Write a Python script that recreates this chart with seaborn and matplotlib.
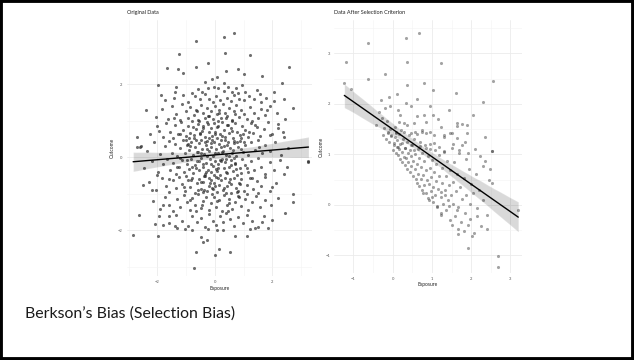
import numpy as np
import pandas as pd
import matplotlib
matplotlib.use("Agg")
import matplotlib.pyplot as plt
import seaborn as sns
from matplotlib.patches import Rectangle
from matplotlib.ticker import MultipleLocator

# ---- left panel: original data ----
orig_x = [
    # sparse outer points
    -0.66, 0.31, 0.66, -1.24, 0.35, 1.22, -0.23, -1.65, -1.28, -0.67, -1.10, 0.37, 0.79, 1.02, 1.62, 2.59,
    -1.97, -0.35, -0.09, 0.09, 0.31, 0.95, 2.32, -1.88, -1.39, -1.36, -0.81, -0.46, -0.23, -0.02, 0.46, 0.60,
    0.81, 1.04, 1.45, 2.06,
    -0.71, -2.84, -1.97, -2.63, 0.00, 0.14, 0.52, -0.50, -0.27, -0.64, -0.41, 1.10, 0.70, 1.86, 2.43, 2.70,
    2.70, 3.25, 2.41, 1.97, -2.09, -1.80, -1.33, -1.04, -0.81, 0.06, 0.29, 1.22, 1.39, 1.62, -2.49, -2.69,
    -2.55, -2.69, 2.35, -2.61, 3.25,
    # y 1.5 .. 2
    -1.75, -1.42, -1.10, -0.95, -0.70, -0.52, -0.35, -0.20, -0.08, 0.05, 0.18, 0.30, 0.42, 0.55, 0.68, 0.85,
    1.02, 1.20, 1.35, 1.55, 1.78, 2.05, -0.60, 0.12, 0.75,
    # y 1 .. 1.5
    -2.05, -1.85, -1.62, -1.50, -1.35, -1.22, -1.15, -1.02, -0.92, -0.85, -0.74, -0.66, -0.58, -0.50, -0.42,
    -0.35, -0.28, -0.20, -0.12, -0.05, 0.02, 0.08, 0.15, 0.22, 0.28, 0.35, 0.42, 0.50, 0.58, 0.66, 0.74,
    0.82, 0.92, 1.02, 1.12, 1.22, 1.35, 1.48, 1.60, 1.75, 1.92, 2.15, 2.45, -2.40, 2.70,
    # y 0.5 .. 1
    -2.25, -2.00, -1.80, -1.70, -1.55, -1.45, -1.38, -1.28, -1.18, -1.10, -1.02, -0.95, -0.88, -0.80, -0.72,
    -0.66, -0.60, -0.52, -0.46, -0.40, -0.33, -0.27, -0.21, -0.15, -0.10, -0.04, 0.02, 0.07, 0.12, 0.18,
    0.24, 0.30, 0.36, 0.42, 0.48, 0.55, 0.62, 0.70, 0.78, 0.86, 0.94, 1.04, 1.14, 1.24, 1.34, 1.46, 1.58,
    1.70, 1.85, 2.00, 2.20, 2.40, -0.55, 0.10, 0.60, -0.90, 0.90, -1.95, 1.30, -0.20,
    # y 0 .. 0.5
    -2.35, -2.10, -1.90, -1.75, -1.60, -1.50, -1.40, -1.30, -1.22, -1.12, -1.05, -0.98, -0.90, -0.82, -0.76,
    -0.70, -0.62, -0.56, -0.50, -0.44, -0.38, -0.32, -0.26, -0.20, -0.14, -0.08, -0.02, 0.04, 0.10, 0.15,
    0.21, 0.27, 0.33, 0.39, 0.45, 0.52, 0.58, 0.65, 0.72, 0.80, 0.88, 0.96, 1.06, 1.16, 1.26, 1.38, 1.50,
    1.62, 1.75, 1.90, 2.08, 2.30, 2.55, -0.66, 0.00, 0.35, -0.28, 0.62, -1.00, 1.00, -0.15, 0.48, -0.48,
    0.22, -0.85,
    # y -0.5 .. 0
    -2.45, -2.20, -1.98, -1.80, -1.66, -1.55, -1.44, -1.34, -1.25, -1.15, -1.06, -0.98, -0.90, -0.82, -0.75,
    -0.68, -0.61, -0.54, -0.48, -0.42, -0.36, -0.30, -0.24, -0.18, -0.12, -0.06, 0.00, 0.06, 0.12, 0.18,
    0.24, 0.30, 0.36, 0.42, 0.48, 0.55, 0.62, 0.70, 0.78, 0.86, 0.94, 1.04, 1.14, 1.25, 1.36, 1.48, 1.60,
    1.74, 1.90, 2.06, 2.25, 2.50, -0.30, 0.20, 0.66, -0.80, 0.90, -0.02, 0.40, -0.55, 1.10, -1.20, 0.10,
    -0.40, 0.72,
    # y -1 .. -0.5
    -2.30, -2.05, -1.85, -1.70, -1.58, -1.46, -1.35, -1.25, -1.14, -1.04, -0.95, -0.86, -0.78, -0.70, -0.62,
    -0.55, -0.48, -0.41, -0.34, -0.28, -0.21, -0.15, -0.09, -0.03, 0.03, 0.09, 0.15, 0.21, 0.28, 0.35,
    0.42, 0.49, 0.57, 0.65, 0.73, 0.82, 0.91, 1.00, 1.10, 1.22, 1.34, 1.46, 1.60, 1.75, 1.92, 2.12, -0.60,
    0.00, 0.40, -0.20, 0.78, -1.00, 0.55, -0.40, 1.50,
    # y -1.5 .. -1
    -2.15, -1.90, -1.72, -1.58, -1.45, -1.32, -1.20, -1.08, -0.98, -0.88, -0.78, -0.68, -0.58, -0.49, -0.40,
    -0.31, -0.22, -0.13, -0.04, 0.05, 0.14, 0.23, 0.32, 0.41, 0.50, 0.60, 0.70, 0.80, 0.92, 1.04, 1.16,
    1.30, 1.44, 1.58, 1.75, 1.95, 2.20, -0.10, 0.45, -0.65,
    # y -2 .. -1.5
    -1.95, -1.60, -1.35, -1.15, -0.95, -0.80, -0.62, -0.48, -0.34, -0.20, -0.08, 0.04, 0.16, 0.28, 0.40,
    0.52, 0.66, 0.80, 0.96, 1.12, 1.30, 1.50, 1.70, 2.00, -0.25,
    # denser centre and the tilted corners
    -0.92, -0.71, -0.57, -0.43, -0.37, -0.29, -0.17, -0.11, 0.03, 0.09, 0.19, 0.26, 0.33, 0.41, 0.53,
    0.61, 0.69, 0.77, 0.87, 0.97, -0.83, -0.64, -0.51, -0.39, -0.23, -0.13, -0.01, 0.11, 0.23, 0.37,
    0.47, 0.57, 0.67, 0.79, 0.91, -0.97, -0.77, -0.47, -0.33, -0.07, 0.15, 0.39, -0.25, -0.61, 0.71,
    -0.87, -0.45, 0.07, 0.49, 0.83, -1.21, -1.33, -1.09, 1.17, 1.29, 1.41, 1.11, -1.43, 1.53, -1.61,
    1.80, 2.20, 1.60, 2.40, 1.90, -1.80, -2.20, -1.60, -2.00, -1.40,
]
orig_y = [
    3.19, 3.30, 3.39, 2.82, 2.84, 2.80, 2.58, 2.43, 2.42, 2.48, 2.29, 2.36, 2.41, 2.27, 2.22, 2.46,
    1.97, 2.06, 2.13, 2.20, 2.02, 1.97, 2.02, 1.69, 1.79, 1.91, 1.76, 1.79, 1.88, 1.93, 1.93, 1.79,
    1.76, 1.79, 1.85, 1.79,
    -3.03, -2.14, -2.16, -1.59, -2.68, -2.52, -2.61, -2.18, -2.27, -2.59, -2.32, -2.16, -2.16, -1.95, -1.52, -1.02,
    -1.22, -0.10, -0.47, -0.83, -1.84, -1.86, -1.94, -1.98, -2.00, -2.00, -2.00, -1.98, -1.95, -1.77, -0.77, 0.28,
    0.31, 0.54, 0.69, 0.28, -0.13,
    1.55, 1.62, 1.70, 1.52, 1.66, 1.58, 1.74, 1.60, 1.52, 1.68, 1.57, 1.80, 1.63, 1.53, 1.71, 1.60,
    1.55, 1.67, 1.58, 1.72, 1.61, 1.54, 1.86, 1.90, 1.88,
    1.10, 1.32, 1.05, 1.40, 1.18, 1.02, 1.45, 1.25, 1.08, 1.38, 1.15, 1.30, 1.02, 1.44, 1.20,
    1.08, 1.35, 1.12, 1.26, 1.04, 1.40, 1.18, 1.30, 1.06, 1.46, 1.22, 1.12, 1.34, 1.02, 1.25, 1.42,
    1.10, 1.30, 1.18, 1.04, 1.38, 1.20, 1.08, 1.32, 1.15, 1.40, 1.22, 1.05, 1.28, 1.35,
    0.62, 0.85, 0.55, 0.92, 0.70, 0.52, 0.88, 0.64, 0.96, 0.75, 0.58, 0.84, 0.66, 0.98, 0.53,
    0.78, 0.90, 0.62, 0.72, 0.86, 0.55, 0.96, 0.68, 0.80, 0.58, 0.92, 0.70, 0.52, 0.84, 0.63,
    0.95, 0.74, 0.56, 0.88, 0.67, 0.79, 0.53, 0.93, 0.70, 0.60, 0.86, 0.74, 0.55, 0.92, 0.66, 0.82, 0.58,
    0.76, 0.95, 0.64, 0.80, 0.55, 0.99, 0.99, 0.98, 0.51, 0.51, 0.72, 0.98, 0.51,
    0.18, 0.40, 0.08, 0.30, 0.45, 0.12, 0.35, 0.02, 0.24, 0.46, 0.10, 0.32, 0.20, 0.42, 0.05,
    0.28, 0.15, 0.38, 0.48, 0.22, 0.08, 0.34, 0.44, 0.16, 0.28, 0.04, 0.40, 0.22, 0.10, 0.36,
    0.47, 0.18, 0.30, 0.06, 0.42, 0.24, 0.12, 0.38, 0.02, 0.27, 0.45, 0.14, 0.33, 0.07, 0.40, 0.20, 0.46,
    0.10, 0.32, 0.18, 0.40, 0.06, 0.25, 0.46, 0.12, 0.48, 0.02, 0.20, 0.48, 0.40, 0.38, 0.04, 0.10,
    0.28, 0.30,
    -0.30, -0.12, -0.42, -0.20, -0.05, -0.36, -0.15, -0.46, -0.26, -0.08, -0.40, -0.18, -0.32, -0.04, -0.44,
    -0.22, -0.12, -0.36, -0.02, -0.28, -0.46, -0.16, -0.34, -0.06, -0.42, -0.24, -0.10, -0.38, -0.20, -0.48,
    -0.04, -0.30, -0.14, -0.44, -0.26, -0.08, -0.38, -0.18, -0.48, -0.30, -0.06, -0.22, -0.42, -0.12, -0.34, -0.02, -0.26,
    -0.45, -0.14, -0.36, -0.08, -0.28, -0.40, -0.12, -0.02, -0.26, -0.44, -0.48, -0.06, -0.10, -0.30, -0.02, -0.30,
    -0.20, -0.32,
    -0.68, -0.90, -0.58, -0.80, -0.96, -0.62, -0.84, -0.54, -0.74, -0.92, -0.64, -0.82, -0.56, -0.98, -0.72,
    -0.60, -0.88, -0.68, -0.52, -0.94, -0.78, -0.62, -0.86, -0.70, -0.54, -0.96, -0.76, -0.64, -0.90, -0.58,
    -0.80, -0.68, -0.98, -0.56, -0.84, -0.70, -0.60, -0.92, -0.76, -0.58, -0.88, -0.66, -0.80, -0.54, -0.94, -0.72, -0.90,
    -0.80, -0.98, -0.56, -0.96, -0.52, -0.74, -0.96, -0.98,
    -1.20, -1.42, -1.08, -1.30, -1.48, -1.15, -1.36, -1.04, -1.24, -1.46, -1.12, -1.32, -1.02, -1.40, -1.20,
    -1.08, -1.44, -1.26, -1.10, -1.38, -1.18, -1.48, -1.04, -1.30, -1.14, -1.42, -1.22, -1.06, -1.34, -1.16, -1.46,
    -1.24, -1.06, -1.38, -1.18, -1.30, -1.12, -1.02, -1.48, -1.48,
    -1.62, -1.80, -1.58, -1.74, -1.90, -1.60, -1.78, -1.66, -1.92, -1.56, -1.74, -1.86, -1.62, -1.78, -1.54,
    -1.70, -1.88, -1.64, -1.80, -1.58, -1.74, -1.92, -1.60, -1.72, -1.98,
    0.37, 0.61, 0.14, 0.79, -0.53, 0.23, -0.71, 0.47, -0.33, 0.83, -0.07, 0.58, -0.84, 0.33, -0.61,
    0.71, -0.17, 0.41, -0.73, 0.63, -0.63, -0.31, 0.67, -0.89, 0.91, -0.19, 0.63, -0.57, 0.13, -0.41,
    0.89, -0.23, 0.43, -0.93, 0.21, -0.07, 0.83, -0.69, 0.41, -0.87, 1.21, 1.07, 1.13, 1.27, 1.17,
    -1.17, -1.31, -1.19, -1.27, -1.09, 0.63, -0.27, -0.81, 0.69, -0.57, 0.87, -1.01, 1.07, 0.27, -0.61,
    1.30, 0.90, 1.50, 1.60, 0.60, -1.30, -0.90, -1.60, -0.50, -1.90,
]

# ---- right panel: data after selection criterion ----
sel_x = [
    -1.19, -0.63, 0.35, 0.67, 0.37, 1.22, -0.63, -1.23, -0.20, -1.06, 0.37, 0.81, 1.02, 1.62, 2.55, 2.29,
    -0.30, -0.08, 0.12, 0.35, -0.20, -0.07, 0.13, 0.46, 0.61, 0.79, 1.03, 1.43, 2.04, -0.42, -0.35, 0.96,
    0.16, 0.37, 1.64, 1.64, 1.76, 1.89, 1.24, -0.12, 0.08, 0.75, 0.96, 1.47, 2.35,
    3.20, 2.68, 2.68, 1.93, 2.40, 1.66, 1.66, 2.08, 1.82, 2.52, 2.54, 2.31, 2.48, 2.14, 1.97, 1.64,
    1.43, 1.22, 1.13, 0.92, 1.00, 1.22, 1.34,
    -0.12, -0.05, 0.08, 0.29, 0.46, 0.63, 0.75, 0.84, 1.05, 1.30, 1.51, 1.64, 1.89,
    0.03, 0.13, 0.25, 0.31, 0.46, 0.54, 0.71, 0.84, 0.96, 1.09, 1.17, 1.30, 1.51, 1.70, 1.76, 1.93, 2.23, 2.52,
    -0.25, -0.22, -0.18, -0.15, -0.10, -0.06, -0.03, -0.28,
    0.02, 0.04, 0.05, 0.07, 0.09, 0.10, 0.12, 0.14, 0.15, 0.17, 0.19, 0.20, 0.22, 0.24, 0.25, 0.27, 0.28, 0.29,
    0.31, 0.32, 0.34, 0.36, 0.37, 0.39, 0.40, 0.42, 0.44, 0.45, 0.47, 0.48, 0.50, 0.52, 0.53, 0.55, 0.56,
    0.58, 0.59, 0.57,
    0.61, 0.62, 0.64, 0.65, 0.67, 0.68, 0.70, 0.72, 0.73, 0.75, 0.76, 0.78, 0.80, 0.81, 0.83, 0.85, 0.86,
    0.88, 0.89, 0.78,
    0.91, 0.92, 0.94, 0.95, 0.97, 0.98, 1.00, 1.02, 1.03, 1.05, 1.06, 1.08, 1.10, 1.11, 1.13, 1.15, 1.17, 1.19,
    1.22, 1.23, 1.25, 1.27, 1.29, 1.31, 1.33, 1.35, 1.37, 1.39, 1.41, 1.43, 1.45, 1.47, 1.49,
    1.51, 1.53, 1.55, 1.57, 1.59, 1.61, 1.63, 1.66, 1.68, 1.71, 1.74, 1.77,
    1.81, 1.84, 1.86, 1.88, 1.91, 1.94, 1.97, 2.00, 2.03, 2.06,
    2.12, 2.16, 2.20, 2.25, 2.30, 2.35, 2.40, 2.45,
    0.55, 0.85, 1.15, 1.30, 0.20, 0.62, 1.85, 2.10, 1.55,
]
sel_y = [
    2.83, 3.20, 3.30, 3.40, 2.84, 2.81, 2.49, 2.42, 2.59, 2.29, 2.38, 2.42, 2.28, 2.22, 2.46, 2.03,
    2.08, 2.13, 2.20, 2.01, 1.91, 1.96, 1.88, 1.95, 1.76, 1.78, 1.78, 1.87, 1.78, 1.58, 1.83, 1.95,
    1.65, 1.58, 1.63, 1.56, 1.60, 1.58, 1.55, 1.45, 1.42, 1.49, 1.45, 1.43, 1.35,
    -0.10, -1.02, -1.24, -0.86, -0.48, -0.48, -0.58, -0.55, -0.51, 0.43, 1.07, 0.77, 0.71, -0.23, -0.28, -0.10,
    -0.02, -0.20, -0.03, 0.10, 0.15, 0.26, 0.20,
    1.42, 1.39, 1.45, 1.45, 1.42, 1.41, 1.45, 1.43, 1.39, 1.35, 1.42, 1.32, 1.42,
    1.19, 1.15, 1.22, 1.12, 1.19, 1.09, 1.17, 1.12, 1.21, 1.09, 1.15, 1.06, 1.12, 1.08, 1.19, 1.02, 0.96, 1.07,
    1.38, 1.52, 1.30, 1.66, 1.25, 1.50, 1.36, 1.72,
    1.08, 1.22, 1.34, 1.55, 1.02, 1.15, 1.28, 0.98, 1.40, 1.10, 1.20, 0.90, 1.48, 1.05, 0.84, 1.30, 0.95, 1.62,
    0.78, 1.12, 0.92, 1.25, 0.70, 1.02, 0.84, 1.38, 0.64, 1.08, 0.76, 0.96, 1.18, 0.58, 0.86, 1.30, 0.70,
    1.00, 0.52, 1.45,
    0.44, 0.80, 1.10, 0.62, 0.38, 0.92, 1.25, 0.52, 0.74, 0.30, 1.02, 0.60, 0.40, 0.86, 1.18, 0.24, 0.68,
    0.50, 0.96, 0.24,
    0.14, 0.42, 0.72, 1.10, 0.28, 0.56, 0.88, 0.06, 0.36, 0.64, 1.22, 0.20, 0.48, 0.80, -0.04, 0.32, 0.98, 0.58,
    -0.16, 0.16, 0.44, 0.72, 0.02, 1.05, 0.30, -0.10, 0.58, 0.86, 0.10, 0.40, -0.30, 0.68, 0.20,
    -0.40, 0.02, 0.46, 0.84, -0.22, 0.28, 0.62, -0.05, 1.02, 0.36, -0.34, 0.12,
    0.54, -0.16, 0.90, 0.20, -0.40, 0.70, 0.02, 0.42, -0.62, 0.24,
    0.62, -0.06, 0.30, -0.42, 0.10, 0.86, -0.20, 0.50,
    1.62, 1.65, 1.70, 1.38, 1.78, 2.10, 1.25, 1.10, 1.20,
]

orig = pd.DataFrame({"Exposure": orig_x, "Outcome": orig_y})
sel = pd.DataFrame({"Exposure": sel_x, "Outcome": sel_y})

sns.set_style("white")
plt.rcParams["font.family"] = ["Lato", "DejaVu Sans"]

fig = plt.figure(figsize=(6.34, 3.6), dpi=100)
fig.patches.append(Rectangle((0, 0), 1, 1, transform=fig.transFigure, fill=False,
                             edgecolor="black", linewidth=4.2, zorder=10))

ax1 = fig.add_axes([0.200, 0.233, 0.292, 0.711])
ax2 = fig.add_axes([0.527, 0.242, 0.296, 0.702])


def style_ax(ax, title, xlim, ylim, major, ylabelpad):
    ax.set_xlim(*xlim)
    ax.set_ylim(*ylim)
    ax.xaxis.set_major_locator(MultipleLocator(major[0]))
    ax.xaxis.set_minor_locator(MultipleLocator(major[0] / 2))
    ax.yaxis.set_major_locator(MultipleLocator(major[1]))
    ax.yaxis.set_minor_locator(MultipleLocator(major[1] / 2))
    ax.grid(which="major", color="#ebebeb", linewidth=0.6)
    ax.grid(which="minor", color="#f3f3f3", linewidth=0.4)
    ax.set_axisbelow(True)
    for s in ax.spines.values():
        s.set_visible(False)
    ax.tick_params(which="both", length=0, labelsize=3, colors="#555555", pad=3)
    ax.set_xlabel("Exposure", fontsize=3.5, color="#222222", labelpad=1)
    ax.set_ylabel("Outcome", fontsize=3.5, color="#222222", labelpad=ylabelpad)
    ax.text(0.0, 1.02, title, transform=ax.transAxes, fontsize=4, color="#222222",
            ha="left", va="bottom")


sns.regplot(data=orig, x="Exposure", y="Outcome", ax=ax1, seed=1,
            scatter_kws={"s": 5, "color": "#222222", "alpha": 0.65, "linewidths": 0},
            line_kws={"color": "black", "lw": 1.0})
sns.regplot(data=sel, x="Exposure", y="Outcome", ax=ax2, seed=1,
            scatter_kws={"s": 5, "color": "#333333", "alpha": 0.45, "linewidths": 0},
            line_kws={"color": "black", "lw": 1.0})

style_ax(ax1, "Original Data", (-3.06, 3.37), (-3.26, 3.75), (2, 2), 2)
style_ax(ax2, "Data After Selection Criterion", (-1.49, 3.29), (-1.35, 3.66), (1, 1), 1)

fig.text(0.040, 0.130, "Berkson\u2019s Bias (Selection Bias)", fontsize=11.4, color="#1a1a1a",
         ha="left", va="center")

fig.savefig("out.png", dpi=100)
